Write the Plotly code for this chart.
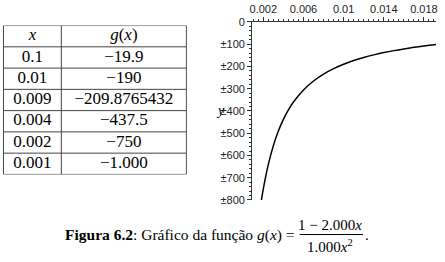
import plotly.graph_objects as go

# Table data
tab_head = ["<i>x</i>", "<i>g</i>(<i>x</i>)"]
tab_x = ["0.1", "0.01", "0.009", "0.004", "0.002", "0.001"]
tab_g = ["\u221219.9", "\u2212190", "\u2212209.8765432", "\u2212437.5", "\u2212750", "\u22121.000"]

# Curve samples
curve_x = [0.00181, 0.002, 0.0022, 0.0025, 0.003, 0.0035, 0.004, 0.0045, 0.005,
           0.006, 0.007, 0.008, 0.009, 0.010, 0.011, 0.012, 0.013, 0.014,
           0.015, 0.016, 0.017, 0.018, 0.019, 0.0192]
curve_y = [-800, -750, -702.5, -640, -555.6, -489.8, -437.5, -395.1, -360,
           -305.6, -265.3, -234.4, -209.9, -190, -173.6, -159.7, -147.9, -137.8,
           -128.9, -121.1, -114.2, -108.0, -102.5, -101.5]

xtick_vals = [0.002, 0.006, 0.01, 0.014, 0.018]
xtick_text = ["0.002", "0.006", "0.01", "0.014", "0.018"]
ytick_vals = [0, -100, -200, -300, -400, -500, -600, -700, -800]
ytick_text = ["0", "\u00b1100", "\u00b1200", "\u00b1300", "\u00b1400", "\u00b1500",
              "\u00b1600", "\u00b1700", "\u00b1800"]

W, H = 445, 262
def px(x): return x / W
def py(y): return 1 - y / H

serif = "Liberation Serif, Times New Roman, Times, serif"
sans = "Liberation Sans, Arial, Helvetica, sans-serif"

fig = go.Figure()

# ---- table drawn on its own axes (columns in px units, rows by index) ----
col_edges = [0.5, 59, 185.5]
col_centers = [(col_edges[i] + col_edges[i + 1]) / 2 for i in range(2)]
nrows = len(tab_x) + 1
rows_x, rows_y, rows_t = [], [], []
for c, (head, col) in enumerate(zip(tab_head, [tab_x, tab_g])):
    for r, txt in enumerate([head] + col):
        rows_x.append(col_centers[c])
        rows_y.append(r + 0.5)
        rows_t.append(txt)
fig.add_trace(go.Scatter(x=rows_x, y=rows_y, text=rows_t, mode="text",
                         textposition="middle center",
                         textfont=dict(family=serif, size=17, color="black"),
                         xaxis="x2", yaxis="y2", hoverinfo="skip", showlegend=False))
for r in range(nrows + 1):
    fig.add_shape(type="line", xref="x2", yref="y2", x0=col_edges[0], x1=col_edges[-1],
                  y0=r, y1=r, line=dict(color="#444", width=1))
for e in col_edges:
    fig.add_shape(type="line", xref="x2", yref="y2", x0=e, x1=e,
                  y0=0, y1=nrows, line=dict(color="#444", width=1))

# ---- curve ----
fig.add_trace(go.Scatter(x=curve_x, y=curve_y, mode="lines",
                         line=dict(color="black", width=1.5, shape="spline"),
                         showlegend=False, hoverinfo="skip"))

axfont = dict(family=sans, size=11, color="#222")
fig.update_layout(
    width=W, height=H, margin=dict(l=0, r=0, t=0, b=0),
    paper_bgcolor="white", plot_bgcolor="white", showlegend=False,
    xaxis=dict(domain=[px(252), px(438)], range=[0.000889, 0.01921], side="top",
               tickmode="array", tickvals=xtick_vals, ticktext=xtick_text,
               showgrid=False, zeroline=False, showline=True, linecolor="#333", linewidth=1,
               ticks="outside", ticklen=4, tickcolor="#333", tickfont=axfont,
               minor=dict(ticks="outside", dtick=0.0005, tick0=0, ticklen=2, tickcolor="#333", showgrid=False)),
    yaxis=dict(domain=[py(203.3), py(16.7)], range=[-800, 0],
               tickmode="array", tickvals=ytick_vals, ticktext=ytick_text,
               showgrid=False, zeroline=False, showline=True, linecolor="#333", linewidth=1,
               ticks="outside", ticklen=4, tickcolor="#333", tickfont=axfont,
               minor=dict(ticks="outside", dtick=20, tick0=0, ticklen=2, tickcolor="#333", showgrid=False)),
    xaxis2=dict(domain=[0, px(186)], range=[0, 186], visible=False, anchor="y2"),
    yaxis2=dict(domain=[py(176.5), py(20.5)], range=[nrows, 0], visible=False, anchor="x2"),
)

fig.add_annotation(xref="paper", yref="paper", x=px(213), y=py(110), xanchor="left", yanchor="middle",
                   text="<i>y</i>", showarrow=False, font=dict(family=serif, size=14, color="black"))

fig.add_annotation(xref="paper", yref="paper", x=px(297), y=py(240), xanchor="right", yanchor="middle",
                   text="<b>Figura 6.2</b>: Gráfico da função <i>g</i>(<i>x</i>) =",
                   showarrow=False, font=dict(family=serif, size=15.5, color="black"))
fig.add_annotation(xref="paper", yref="paper", x=px(331), y=py(229), xanchor="center", yanchor="middle",
                   text="1 \u2212 2.000<i>x</i>", showarrow=False,
                   font=dict(family=serif, size=15, color="black"))
fig.add_annotation(xref="paper", yref="paper", x=px(331), y=py(251), xanchor="center", yanchor="middle",
                   text="1.000<i>x</i><sup>2</sup>", showarrow=False,
                   font=dict(family=serif, size=15, color="black"))
fig.add_shape(type="line", xref="paper", yref="paper", x0=px(300), x1=px(364),
              y0=py(239.5), y1=py(239.5), line=dict(color="black", width=1))
fig.add_annotation(xref="paper", yref="paper", x=px(364), y=py(240), xanchor="left", yanchor="middle",
                   text=".", showarrow=False, font=dict(family=serif, size=15, color="black"))

fig.write_html("out.html")
